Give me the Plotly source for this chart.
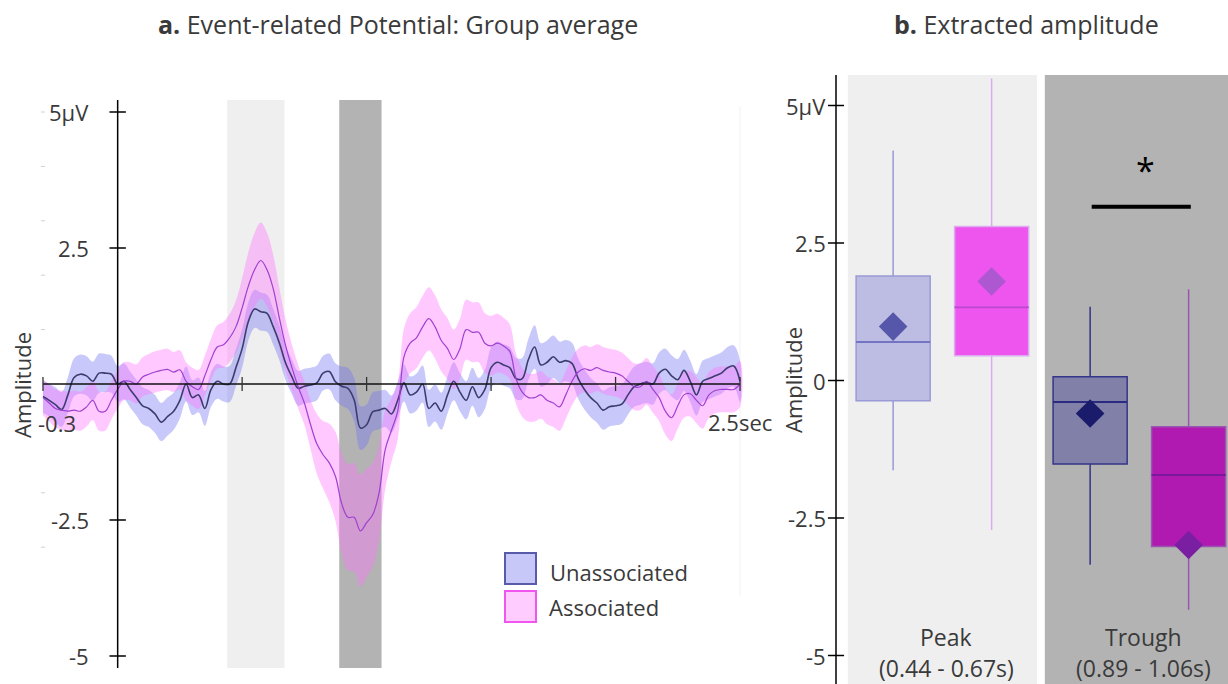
import numpy as np
import plotly.graph_objects as go

W, H = 1228, 684
FONT = "Open Sans"
TXT = "#3a3a3a"

# ---------------- ERP group average ----------------
# sampling grid of the averaged waveform (seconds, 25 ms steps)
TIME = np.round(np.linspace(-0.3, 2.5, 113), 3)

UNASSOC_MEAN = [
    -0.23, -0.30, -0.38, -0.47, -0.20, 0.12, 0.18, 0.15, 0.05, 0.20, 0.20, 0.18, 0.00,
    0.05, -0.10, -0.25, -0.40, -0.45, -0.55, -0.70, -0.60, -0.50, -0.30, 0.00, -0.25,
    -0.20, -0.45, -0.10, 0.05, 0.00, 0.00,
    0.30, 0.65, 1.15, 1.38, 1.33, 1.30, 1.05, 0.75,
    0.38, 0.13, -0.08, -0.04, -0.02, 0.02, 0.20, 0.23, 0.04, -0.04, -0.08, -0.29,
    -0.81, -0.75, -0.51, -0.48, -0.45, -0.55,
    -0.30, 0.02, -0.20, -0.15, 0.00, -0.45, -0.35, -0.50, -0.20, 0.05, -0.15, -0.30,
    -0.05, -0.25, -0.10, 0.30, 0.40, 0.35, 0.30,
    0.10, 0.10, 0.45, 0.68, 0.35, 0.40, 0.50, 0.40, 0.43, 0.38, 0.10, -0.10, -0.25,
    -0.35, -0.48, -0.42, -0.40, -0.37, -0.20, -0.05, 0.00, 0.03, 0.00, 0.20, 0.27,
    0.15, 0.08, 0.25, 0.05, -0.20, 0.05, 0.10, 0.15, 0.20, 0.30, 0.33, 0.05,
]
UNASSOC_SEM = [
    0.30, 0.30, 0.32, 0.32, 0.33, 0.35, 0.36, 0.36, 0.36, 0.36, 0.35, 0.34, 0.33,
    0.33, 0.33, 0.33, 0.34, 0.34, 0.35, 0.35, 0.35, 0.34, 0.33, 0.32, 0.32, 0.32,
    0.32, 0.32, 0.32, 0.32, 0.33,
    0.34, 0.35, 0.35, 0.35, 0.35, 0.34, 0.33, 0.32,
    0.32, 0.32, 0.32, 0.32, 0.32, 0.32, 0.32, 0.33, 0.34, 0.36, 0.38, 0.40, 0.40,
    0.38, 0.36, 0.35, 0.34, 0.34,
    0.34, 0.34, 0.34, 0.34, 0.34, 0.34, 0.34, 0.34, 0.34, 0.35, 0.35, 0.35, 0.35,
    0.36, 0.36, 0.37, 0.38, 0.38, 0.38,
    0.38, 0.38, 0.38, 0.40, 0.40, 0.40, 0.39, 0.38, 0.38, 0.38, 0.37, 0.37, 0.36,
    0.36, 0.36, 0.36, 0.36, 0.36, 0.36, 0.37, 0.38, 0.38, 0.38, 0.38, 0.38, 0.38,
    0.38, 0.38, 0.38, 0.38, 0.38, 0.38, 0.38, 0.38, 0.38, 0.38, 0.38,
]
ASSOC_MEAN = [
    -0.25, -0.35, -0.45, -0.48, -0.50, -0.48, -0.50, -0.42, -0.30, -0.50, -0.50, -0.30, -0.10,
    0.05, 0.05, 0.00, 0.13, 0.18, 0.22, 0.25, 0.27, 0.22, 0.26, 0.05, -0.05,
    -0.10, 0.15, 0.45, 0.68, 0.72, 0.85,
    1.05, 1.40, 1.80, 2.10, 2.27, 2.10, 1.75, 1.20,
    0.70, 0.30, -0.05, -0.35, -0.75, -1.10, -1.30, -1.45, -1.70, -2.20, -2.45, -2.45,
    -2.70, -2.55, -2.40, -2.00, -1.20, -0.85,
    -0.50, 0.50, 0.75, 0.85, 1.05, 1.20, 1.05, 0.80, 0.65, 0.45, 0.65, 1.00,
    0.95, 0.95, 0.75, 0.70, 0.75, 0.70, 0.60,
    0.10, -0.15, -0.25, -0.25, -0.20, -0.30, -0.35, -0.42, -0.20, 0.05, 0.22, 0.28,
    0.25, 0.30, 0.25, 0.22, 0.20, 0.15, 0.05, -0.05, -0.05, 0.05, -0.10, -0.25,
    -0.50, -0.62, -0.40, -0.20, -0.18, -0.30, -0.40, -0.20, -0.12, -0.10, -0.10, -0.10, 0.00,
]
ASSOC_SEM = [
    0.33, 0.34, 0.35, 0.36, 0.36, 0.36, 0.36, 0.36, 0.36, 0.36, 0.36, 0.35, 0.35,
    0.35, 0.35, 0.36, 0.36, 0.37, 0.38, 0.38, 0.38, 0.37, 0.36, 0.35, 0.35,
    0.36, 0.37, 0.38, 0.40, 0.42, 0.44,
    0.48, 0.55, 0.62, 0.68, 0.70, 0.68, 0.62, 0.55,
    0.47, 0.42, 0.40, 0.40, 0.45, 0.55, 0.62, 0.72, 0.82, 0.92, 0.98, 1.00,
    1.03, 1.00, 0.95, 0.88, 0.72, 0.58,
    0.52, 0.52, 0.55, 0.56, 0.57, 0.58, 0.58, 0.57, 0.56, 0.55, 0.55, 0.55,
    0.55, 0.55, 0.55, 0.55, 0.54, 0.52, 0.50,
    0.46, 0.45, 0.44, 0.44, 0.44, 0.44, 0.44, 0.44, 0.44, 0.44, 0.43, 0.43,
    0.43, 0.43, 0.43, 0.43, 0.43, 0.43, 0.43, 0.43, 0.43, 0.43, 0.43, 0.43,
    0.43, 0.43, 0.42, 0.42, 0.42, 0.42, 0.42, 0.42, 0.42, 0.42, 0.42, 0.42, 0.42,
]
for arr in (UNASSOC_MEAN, UNASSOC_SEM, ASSOC_MEAN, ASSOC_SEM):
    assert len(arr) == len(TIME), len(arr)

PEAK_WIN = (0.44, 0.67)
TROUGH_WIN = (0.89, 1.06)
LEFT_YTICKS = [5, 2.5, -2.5, -5]
LEFT_YTICKTEXT = ["5µV", "2.5", "-2.5", "-5"]
LEFT_XTICKS = [-0.3, 0.5, 1.0, 1.5, 2.0, 2.5]

# ---------------- extracted amplitudes ----------------
WINDOWS = ["Peak", "Trough"]
WINDOW_RANGES = ["(0.44 - 0.67s)", "(0.89 - 1.06s)"]
UN_Q1 = [-0.37, -1.52]
UN_MED = [0.70, -0.39]
UN_Q3 = [1.90, 0.07]
UN_LO = [-1.63, -3.35]
UN_HI = [4.18, 1.34]
UN_MEAN = [0.98, -0.60]
AS_Q1 = [0.45, -3.02]
AS_MED = [1.33, -1.72]
AS_Q3 = [2.80, -0.84]
AS_LO = [-2.72, -4.17]
AS_HI = [5.49, 1.66]
AS_MEAN = [1.80, -2.99]
SIG_LEVEL = 3.16
RIGHT_YTICKS = [5, 2.5, 0, -2.5, -5]
RIGHT_YTICKTEXT = ["5µV", "2.5", "0", "-2.5", "-5"]

# box styling per window: (fill, whisker/outline, median, mean marker)
UN_STYLE = [("#bdbde3", "#9a9ad8", "#7474c4", "#5656aa"),
            ("#8080a8", "#35358a", "#2a2a80", "#1b1b6b")]
AS_STYLE = [("#ee55ee", "#dcaaee", "#bf45d2", "#ad58d0"),
            ("#b01ab0", "#9a55b0", "#7a1a9a", "#7a1fa2")]


def px(x):
    return x / W


def py(y):
    return 1 - y / H


fig = go.Figure()

# ---- left panel: bands and average traces ----
t = list(TIME)
for mean, sem, band in ((UNASSOC_MEAN, UNASSOC_SEM, "rgba(117,117,242,0.40)"),
                        (ASSOC_MEAN, ASSOC_SEM, "rgba(255,117,255,0.40)")):
    m = np.array(mean)
    s = np.array(sem)
    fig.add_trace(go.Scatter(
        x=t + t[::-1], y=list(m + s) + list((m - s)[::-1]),
        fill="toself", fillcolor=band, line=dict(width=0, shape="spline"),
        mode="lines", hoverinfo="skip", showlegend=False, xaxis="x", yaxis="y"))

fig.add_trace(go.Scatter(x=t, y=UNASSOC_MEAN, mode="lines", name="Unassociated",
                         line=dict(color="#3c3c6e", width=1.6, shape="spline"),
                         showlegend=False, xaxis="x", yaxis="y"))
fig.add_trace(go.Scatter(x=t, y=ASSOC_MEAN, mode="lines", name="Associated",
                         line=dict(color="#a040d0", width=1.2, shape="spline"),
                         showlegend=False, xaxis="x", yaxis="y"))

# faint minor marks at the left edge
fig.add_trace(go.Scatter(x=[-0.3] * 7, y=[5, 4, 3, 2, 1, -2, -3], mode="markers",
                         marker=dict(symbol="line-ew", size=3,
                                     line=dict(color="#d2d2d2", width=1)),
                         hoverinfo="skip", showlegend=False, xaxis="x", yaxis="y"))

# ---- right panel: box summaries ----
offsets = (-0.25, 0.25)
for i, w in enumerate(WINDOWS):
    for off, q1, med, q3, lo, hi, mn, style in (
            (offsets[0], UN_Q1, UN_MED, UN_Q3, UN_LO, UN_HI, UN_MEAN, UN_STYLE),
            (offsets[1], AS_Q1, AS_MED, AS_Q3, AS_LO, AS_HI, AS_MEAN, AS_STYLE)):
        fill, wcol, medcol, meancol = style[i]
        xpos = i + off
        fig.add_trace(go.Box(
            x=[xpos], q1=[q1[i]], median=[med[i]], q3=[q3[i]],
            lowerfence=[lo[i]], upperfence=[hi[i]],
            width=0.376, whiskerwidth=0, fillcolor=fill,
            line=dict(color=wcol, width=1.5), boxpoints=False,
            showlegend=False, xaxis="x2", yaxis="y2"))
        fig.add_trace(go.Scatter(
            x=[xpos - 0.188, xpos + 0.188], y=[med[i], med[i]], mode="lines",
            line=dict(color=medcol, width=2), hoverinfo="skip",
            showlegend=False, xaxis="x2", yaxis="y2"))
        fig.add_trace(go.Scatter(
            x=[xpos], y=[mn[i]], mode="markers",
            marker=dict(symbol="diamond", size=22, color=meancol),
            showlegend=False, xaxis="x2", yaxis="y2"))

shapes = []
# analysis windows on the time course
for (a, b), col in ((PEAK_WIN, "#efefef"), (TROUGH_WIN, "#b3b3b3")):
    shapes.append(dict(type="rect", xref="x", yref="y", x0=a, x1=b, y0=-5.22, y1=5.22,
                       fillcolor=col, line=dict(width=0), layer="below"))
# faint right border of the time course
shapes.append(dict(type="line", xref="x", yref="y", x0=2.5, x1=2.5, y0=-3.9, y1=5.1,
                   line=dict(color="#f2f2f2", width=1), layer="below"))
# window backgrounds behind the boxes
for i, col in enumerate(("#efefef", "#b3b3b3")):
    shapes.append(dict(type="rect", xref="x2", yref="y2 domain", x0=i - 0.48, x1=i + 0.48,
                       y0=0, y1=1, fillcolor=col, line=dict(width=0), layer="below"))

# left axes drawn through the origin
shapes.append(dict(type="line", xref="x", yref="y", x0=0, x1=0, y0=-5.22, y1=5.22,
                   line=dict(color="#000", width=1.5), layer="above"))
shapes.append(dict(type="line", xref="x", yref="y", x0=-0.3, x1=2.5, y0=0, y1=0,
                   line=dict(color="#111", width=1.4), layer="above"))
for v in LEFT_YTICKS:
    shapes.append(dict(type="line", xref="x", yref="y", x0=-0.033, x1=0.033, y0=v, y1=v,
                       line=dict(color="#000", width=1.5), layer="above"))
for v in LEFT_XTICKS:
    shapes.append(dict(type="line", xref="x", yref="y", x0=v, x1=v, y0=-0.13, y1=0.13,
                       line=dict(color="#333", width=1.3), layer="above"))

# right axis
RX = -0.54
shapes.append(dict(type="line", xref="x2", yref="y2 domain", x0=RX, x1=RX, y0=0, y1=1,
                   line=dict(color="#000", width=1.5), layer="above"))
for v in RIGHT_YTICKS:
    shapes.append(dict(type="line", xref="x2", yref="y2", x0=RX - 0.041, x1=RX + 0.041,
                       y0=v, y1=v, line=dict(color="#000", width=1.5), layer="above"))

# significance bar between the trough boxes
shapes.append(dict(type="line", xref="x2", yref="y2", x0=1 + offsets[0] + 0.008,
                   x1=1 + offsets[1] + 0.011, y0=SIG_LEVEL, y1=SIG_LEVEL,
                   line=dict(color="#000", width=4), layer="above"))

# legend swatches
for y0, fill, edge in ((553, "#c8c8f8", "#5a5aaa"), (591, "#ffccff", "#f055f0")):
    shapes.append(dict(type="rect", xref="paper", yref="paper", x0=px(505), x1=px(536),
                       y0=py(y0), y1=py(y0 + 31), fillcolor=fill,
                       line=dict(color=edge, width=2)))

ann = []


def text(x, y, s, size=22, xref="paper", yref="paper", xanchor="center", yanchor="middle",
         angle=0, color=TXT):
    ann.append(dict(x=x, y=y, xref=xref, yref=yref, text=s, showarrow=False,
                    xanchor=xanchor, yanchor=yanchor, textangle=angle,
                    font=dict(family=FONT, size=size, color=color)))


text(px(398), py(24), "<b>a.</b> Event-related Potential: Group average", size=25)
text(px(1026), py(24), "<b>b.</b> Extracted amplitude", size=25)
text(px(22), py(385), "Amplitude", size=22, angle=-90)
text(px(793), py(380), "Amplitude", size=22, angle=-90)

for v, s in zip(LEFT_YTICKS, LEFT_YTICKTEXT):
    text(px(91), v, s, yref="y", xanchor="right")
text(px(57), py(423), "-0.3")
text(2.5, py(422), "2.5sec", xref="x")

for v, s in zip(RIGHT_YTICKS, RIGHT_YTICKTEXT):
    text(px(828), v, s, yref="y2", xanchor="right")

for i, (w, r) in enumerate(zip(WINDOWS, WINDOW_RANGES)):
    text(i + 0.02, py(637), w, xref="x2", size=23)
    text(i + 0.02, py(668), r, xref="x2", size=23)

text(px(1145), py(170), "*", size=34, color="#000")

text(px(548), py(572), "Unassociated", size=22, xanchor="left")
text(px(547), py(607), "Associated", size=22, xanchor="left")

LX0, LX1 = 30, 760
L_PX_PER_S = 249.3
R_PX_PER_U = 197
fig.update_layout(
    width=W, height=H, margin=dict(l=0, r=0, t=0, b=0),
    paper_bgcolor="white", plot_bgcolor="rgba(0,0,0,0)",
    showlegend=False, boxmode="overlay",
    xaxis=dict(domain=[px(LX0), px(LX1)],
               range=[-0.3 - (43 - LX0) / L_PX_PER_S, 2.5 + (LX1 - 740) / L_PX_PER_S],
               visible=False),
    yaxis=dict(domain=[py(680), py(90)], range=[(384 - 680) / 54.4, (384 - 90) / 54.4],
               visible=False),
    xaxis2=dict(domain=[px(800), 1], anchor="y2",
                range=[RX - 36 / R_PX_PER_U, RX + 392 / R_PX_PER_U], visible=False),
    yaxis2=dict(domain=[0, py(75)], anchor="x2",
                range=[(380.5 - 684) / 55, (380.5 - 75) / 55], visible=False),
    shapes=shapes, annotations=ann,
)

fig.write_html("out.html")
